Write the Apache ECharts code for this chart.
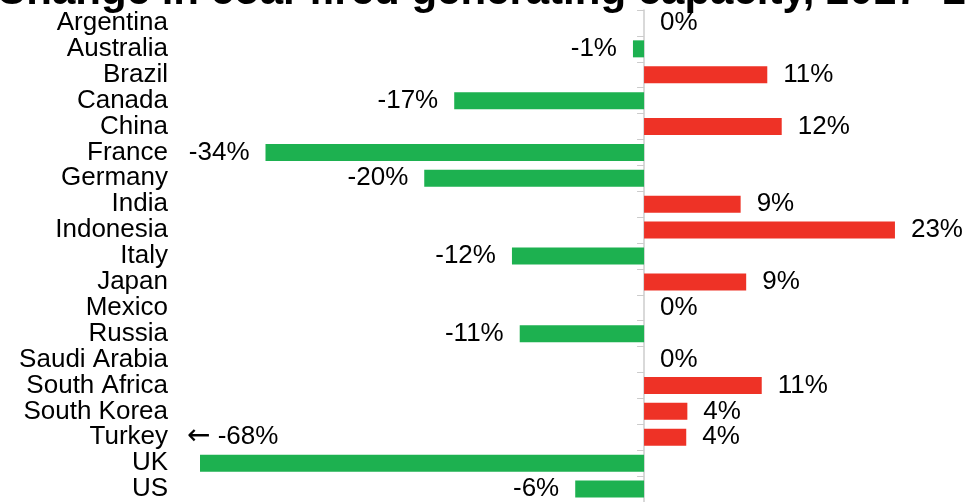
<!DOCTYPE html>
<html>
<head>
<meta charset="utf-8">
<script src="https://cdn.jsdelivr.net/npm/echarts@6/dist/echarts.min.js"></script>
<style>
html,body{margin:0;padding:0;background:#fff;}
#chart{width:966px;height:502px;}
</style>
</head>
<body>
<div id="chart"></div>
<script>
const titleText = 'Change in coal-fired generating capacity, 2017–2022';
const countries = ['Argentina','Australia','Brazil','Canada','China','France','Germany','India','Indonesia','Italy','Japan','Mexico','Russia','Saudi Arabia','South Africa','South Korea','Turkey','UK','US'];
const changePct = [0, -1.0, 11.1, -17.1, 12.4, -34.1, -19.8, 8.7, 22.6, -11.9, 9.2, 0, -11.2, 0, 10.6, 3.9, 3.8, -68, -6.2];
const axisMin = -40;
const axisMax = 29;

const FONT = "'Liberation Sans', Arial, Helvetica, sans-serif";
const GREEN = '#1db150';
const RED = '#ee3226';

const fmt = v => Math.round(v) + '%';

const barData = changePct.map(v => {
  if (v < axisMin) {
    return {
      value: v,
      label: {
        position: 'insideLeft', distance: 0, offset: [-13, -26],
        formatter: '{arr|←} ' + fmt(v),
        rich: { arr: { fontFamily: "'DejaVu Sans', sans-serif", fontSize: 28, color: '#000' } }
      }
    };
  }
  return { value: v, label: { position: v < 0 ? 'left' : 'right' } };
});

const chart = echarts.init(document.getElementById('chart'));
chart.setOption({
  backgroundColor: '#fff',
  animation: false,
  title: {
    text: titleText,
    left: -9,
    top: -34,
    textStyle: { fontFamily: FONT, fontWeight: 'bold', fontSize: 42, color: '#000' }
  },
  grid: { left: 200, top: 10, right: 0, height: 495, containLabel: false },
  xAxis: {
    type: 'value',
    min: axisMin,
    max: axisMax,
    show: false,
    splitLine: { show: false }
  },
  yAxis: [
    {
      type: 'category',
      data: countries,
      inverse: true,
      position: 'left',
      axisLine: { show: false, onZero: false },
      axisTick: { show: false },
      axisLabel: { interval: 0, margin: 32, fontFamily: FONT, fontSize: 26, color: '#000' }
    },
    {
      type: 'category',
      data: countries,
      inverse: true,
      position: 'left',
      axisLine: { show: true, onZero: true, onZeroAxisIndex: 0, lineStyle: { color: '#cccccc', width: 1.5 } },
      axisTick: { show: true, interval: 0, length: 7, lineStyle: { color: '#cccccc', width: 1 } },
      axisLabel: { show: false }
    }
  ],
  series: [{
    type: 'bar',
    yAxisIndex: 0,
    data: barData,
    barWidth: 17,
    clip: true,
    itemStyle: {
      color: p => (p.value < 0 ? GREEN : RED)
    },
    label: {
      show: true,
      distance: 16,
      fontFamily: FONT,
      fontSize: 26,
      color: '#000',
      formatter: p => fmt(p.value)
    }
  }]
});
</script>
</body>
</html>
